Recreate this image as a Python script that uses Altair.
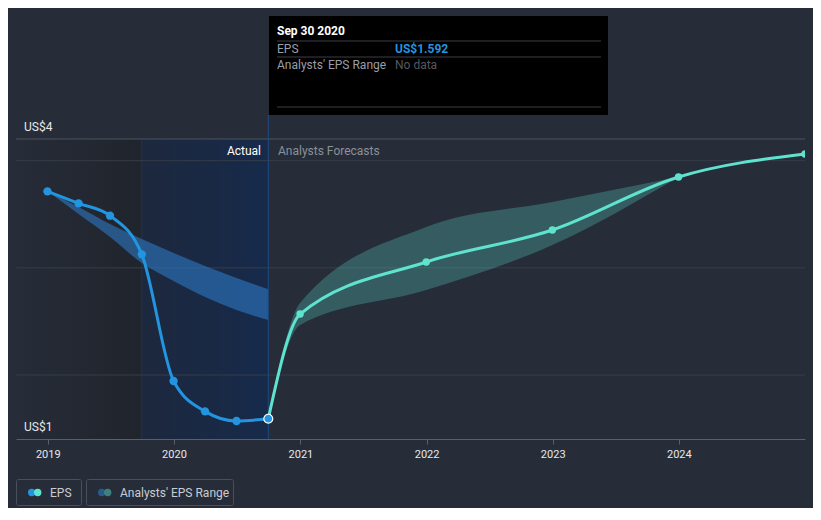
import altair as alt
import pandas as pd

# ---------------- data ----------------
actual_dates = ["2018-12-31", "2019-03-31", "2019-06-30", "2019-09-30",
                "2019-12-31", "2020-03-31", "2020-06-30", "2020-09-30"]
actual_eps = [3.714, 3.602, 3.487, 3.126, 1.944, 1.661, 1.571, 1.592]

past_range_high = [3.714, 3.568, 3.409, 3.269, 3.139, 3.017, 2.905, 2.800]
past_range_low = [3.714, 3.503, 3.288, 3.045, 2.877, 2.728, 2.607, 2.513]

forecast_dates = ["2020-09-30", "2020-12-31", "2021-12-31", "2022-12-31",
                  "2023-12-31", "2024-12-31"]
forecast_eps = [1.592, 2.569, 3.055, 3.353, 3.848, 4.063]

forecast_range_dates = ["2020-09-30", "2020-12-31", "2021-12-31",
                        "2022-12-31", "2023-12-31"]
forecast_range_high = [1.592, 2.672, 3.381, 3.615, 3.848]
forecast_range_low = [1.592, 2.467, 2.793, 3.213, 3.848]

grid_values = [2, 3, 4]
year_ticks = [2019, 2020, 2021, 2022, 2023, 2024]

past_shade = ["2018-10-01", "2019-09-30"]
hover_shade = ["2019-09-30", "2020-09-30"]
hover_date = "2020-09-30"

# ---------------- style ----------------
BG = "#262d39"
BLUE = "#2394df"
TEAL = "#5fe3cf"
FONT = "Roboto"

actual_df = pd.DataFrame({"date": actual_dates, "eps": actual_eps})
past_range_df = pd.DataFrame({"date": actual_dates, "hi": past_range_high, "lo": past_range_low})
fc_df = pd.DataFrame({"date": forecast_dates, "eps": forecast_eps})
fc_pts_df = fc_df.iloc[1:]
fc_range_df = pd.DataFrame({"date": forecast_range_dates, "hi": forecast_range_high,
                            "lo": forecast_range_low})
grid_df = pd.DataFrame({"v": grid_values})
past_df = pd.DataFrame({"start": [past_shade[0]], "end": [past_shade[1]]})
hover_df = pd.DataFrame({"start": [hover_shade[0]], "end": [hover_shade[1]]})
hover_pt_df = actual_df[actual_df["date"] == hover_date]
hover_line_df = pd.DataFrame({"date": [hover_date]})

x_scale = alt.Scale(domain=[alt.DateTime(year=2018, month=10, date=1, utc=True),
                            alt.DateTime(year=2024, month=12, date=31, utc=True)])
y_scale = alt.Scale(domain=[1.403, 4.2025], zero=False, nice=False)

x_axis = alt.Axis(
    values=[alt.DateTime(year=y, month=1, date=1, utc=True) for y in year_ticks],
    format="%Y", labelColor="#e6e8eb", labelFont=FONT, labelFontSize=11,
    tickColor="#5a606b", tickSize=5, domainColor="#5a606b", grid=False,
    title=None, labelPadding=4)

X = alt.X("date:T", scale=x_scale, axis=x_axis)
Y = alt.Y("eps:Q", scale=y_scale, axis=None)

# backgrounds
past_bg = alt.Chart(past_df).mark_rect(
    fill=alt.LinearGradient(gradient="linear",
                            stops=[alt.GradientStop(color="#262c38", offset=0),
                                   alt.GradientStop(color="#20242c", offset=1)],
                            x1=0, x2=1, y1=0, y2=0)
).encode(x=alt.X("start:T", scale=x_scale, axis=x_axis), x2="end:T",
         y=alt.value(0), y2=alt.value(300))

hover_bg = alt.Chart(hover_df).mark_rect(
    fill=alt.LinearGradient(gradient="linear",
                            stops=[alt.GradientStop(color="#1c283d", offset=0),
                                   alt.GradientStop(color="#172a4b", offset=1)],
                            x1=0, x2=1, y1=0, y2=0)
).encode(x=alt.X("start:T", scale=x_scale), x2="end:T",
         y=alt.value(0), y2=alt.value(300))

hover_left = alt.Chart(hover_df).mark_rule(color="#213552", strokeWidth=1).encode(
    x=alt.X("start:T", scale=x_scale), y=alt.value(0), y2=alt.value(300))

grid = alt.Chart(grid_df).mark_rule(color="#363d49", strokeWidth=1).encode(
    y=alt.Y("v:Q", scale=y_scale, axis=None), x=alt.value(0), x2=alt.value(789))

top_line = alt.Chart(grid_df.iloc[:1]).mark_rule(color="#4c535f", strokeWidth=1).encode(
    y=alt.value(0), x=alt.value(0), x2=alt.value(789))

# bands
past_band = alt.Chart(past_range_df).mark_area(
    color="#2f80d0", opacity=0.55, interpolate="monotone").encode(
    x=alt.X("date:T", scale=x_scale), y=alt.Y("hi:Q", scale=y_scale, axis=None), y2="lo:Q")

fc_band = alt.Chart(fc_range_df).mark_area(
    color=TEAL, opacity=0.27, interpolate="monotone").encode(
    x=alt.X("date:T", scale=x_scale), y=alt.Y("hi:Q", scale=y_scale, axis=None), y2="lo:Q")

hover_line = alt.Chart(hover_line_df).mark_rule(color="#1f4a80", strokeWidth=1).encode(
    x=alt.X("date:T", scale=x_scale), y=alt.value(-24), y2=alt.value(300))

# lines
actual_line = alt.Chart(actual_df).mark_line(
    color=BLUE, strokeWidth=3, interpolate="monotone").encode(x=X, y=Y)
actual_pts = alt.Chart(actual_df).mark_circle(color=BLUE, size=70, opacity=1).encode(x=X, y=Y)

fc_line = alt.Chart(fc_df).mark_line(
    color=TEAL, strokeWidth=3, interpolate="monotone").encode(x=X, y=Y)
fc_pts = alt.Chart(fc_pts_df).mark_circle(color=TEAL, size=55, opacity=1, clip=True).encode(x=X, y=Y)

hover_pt = alt.Chart(hover_pt_df).mark_point(
    shape="circle", filled=True, fill=BLUE, stroke="#ffffff", strokeWidth=1.2,
    size=80, opacity=1).encode(x=X, y=Y)

# annotations
def txt(text, x, y, color="#ffffff", align="left", size=12, weight="normal"):
    return alt.Chart(grid_df.iloc[:1]).mark_text(
        text=text, align=align, baseline="middle", color=color, font=FONT,
        fontSize=size, fontWeight=weight).encode(x=alt.value(x), y=alt.value(y))

def box(x, y, x2, y2, fill, stroke=None, radius=0):
    kw = dict(fill=fill, cornerRadius=radius)
    if stroke:
        kw.update(stroke=stroke, strokeWidth=1)
    return alt.Chart(grid_df.iloc[:1]).mark_rect(**kw).encode(
        x=alt.value(x), x2=alt.value(x2), y=alt.value(y), y2=alt.value(y2))

def hline(x, x2, y, color):
    return alt.Chart(grid_df.iloc[:1]).mark_rule(color=color, strokeWidth=1).encode(
        x=alt.value(x), x2=alt.value(x2), y=alt.value(y))

def dot(x, y, color, size=60):
    return alt.Chart(grid_df.iloc[:1]).mark_circle(color=color, size=size, opacity=1).encode(
        x=alt.value(x), y=alt.value(y))

# plot origin is at page (16,139)
annotations = [
    txt("US$4", 8, -12, color="#e6e8eb", size=12),
    txt("US$1", 8, 288, color="#e6e8eb", size=12),
    txt("Actual", 245, 12, color="#ffffff", align="right", size=12),
    txt("Analysts Forecasts", 262, 12, color="#8b9099", size=12),
    # tooltip
    box(253, -123, 592, -24, "#000000"),
    txt("Sep 30 2020", 261, -108, color="#ffffff", size=12, weight="bold"),
    hline(261, 585, -98, "#3d3f44"),
    txt("EPS", 261, -90, color="#9a9ea6", size=12),
    txt("US$1.592", 379, -90, color=BLUE, size=12, weight="bold"),
    hline(261, 585, -82, "#3d3f44"),
    txt("Analysts' EPS Range", 261, -74, color="#9a9ea6", size=12),
    txt("No data", 379, -74, color="#55595f", size=12),
    hline(261, 585, -32, "#3d3f44"),
    # legend
    box(0.5, 340.5, 65.5, 366.5, BG, stroke="#4a505b", radius=2),
    box(70.5, 340.5, 217.5, 366.5, BG, stroke="#4a505b", radius=2),
    dot(15.7, 353.5, BLUE, 55),
    dot(21.7, 353.5, TEAL, 55),
    txt("EPS", 34, 353.5, color="#c9ccd1", size=12),
    dot(85.7, 353.5, "#285b8c", 55),
    dot(91.7, 353.5, "#3f7f7c", 55),
    txt("Analysts' EPS Range", 104, 353.5, color="#c9ccd1", size=12),
]

chart = alt.layer(
    past_bg, hover_bg, hover_left, grid, top_line,
    past_band, fc_band, hover_line,
    actual_line, actual_pts, fc_line, fc_pts, hover_pt,
    *annotations
).properties(
    width=789, height=300,
    padding={"left": 8, "top": 131, "right": 8, "bottom": 69},
    autosize=alt.AutoSizeParams(type="none"),
    background=BG,
).configure_view(stroke=None)

chart.save("out.html", embed_options={"renderer": "svg", "actions": False})
